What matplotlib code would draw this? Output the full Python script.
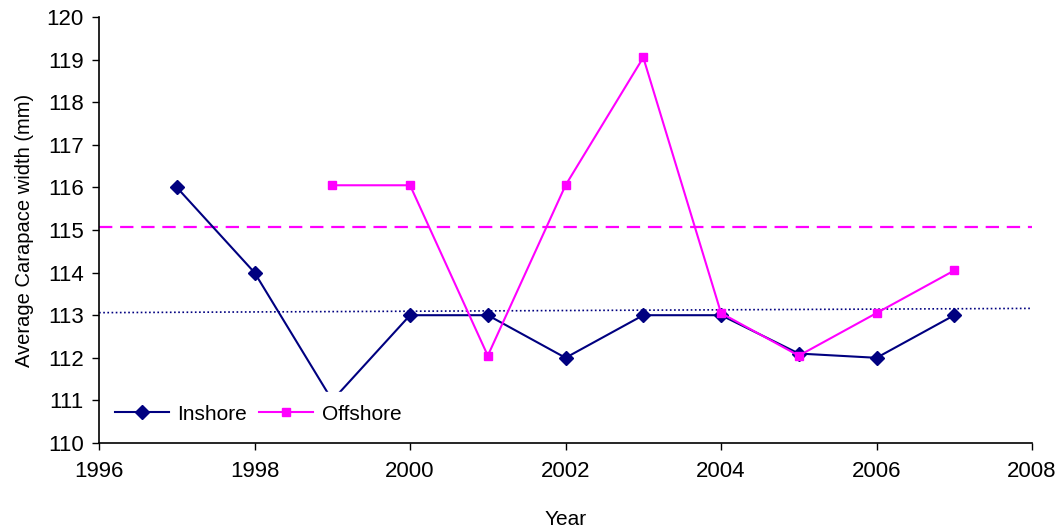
import matplotlib
matplotlib.use("Agg")
import matplotlib.pyplot as plt

# values
inshore_years = [1997, 1998, 1999, 2000, 2001, 2002, 2003, 2004, 2005, 2006, 2007]
inshore_width = [116.0, 114.0, 111.0, 113.0, 113.0, 112.0, 113.0, 113.0, 112.1, 112.0, 113.0]
offshore_years = [1999, 2000, 2001, 2002, 2003, 2004, 2005, 2006, 2007]
offshore_width = [116.05, 116.05, 112.05, 116.05, 119.05, 113.05, 112.05, 113.05, 114.05]
offshore_ref = 115.07               # dashed horizontal line
inshore_trend = [113.06, 113.16]    # dotted line at x = 1996 and 2008

NAVY = "#000080"
MAGENTA = "#FF00FF"

plt.rcParams.update({"font.family": ["Liberation Sans", "DejaVu Sans"], "font.size": 15})

fig = plt.figure(figsize=(10.56, 5.31), dpi=100)
ax = fig.add_axes([0.0938, 0.1657, 0.8835, 0.8023])

ax.axhline(offshore_ref, color=MAGENTA, lw=1.6, ls=(0, (6, 3.5)), zorder=2)
ax.plot([1996, 2008], inshore_trend, color=NAVY, lw=1.2, ls=(0, (1, 1.5)), zorder=2)

ax.plot(inshore_years, inshore_width, color=NAVY, lw=1.5, marker="D", markersize=7,
        label="Inshore", zorder=3)
ax.plot(offshore_years, offshore_width, color=MAGENTA, lw=1.5, marker="s", markersize=5.5,
        label="Offshore", zorder=3)

ax.set_xlim(1996, 2008)
ax.set_ylim(110, 120)
ax.set_xticks(range(1996, 2009, 2))
ax.set_yticks(range(110, 121))
ax.tick_params(axis="x", direction="out", length=5, width=1, pad=8, labelsize=16)
ax.tick_params(axis="y", direction="out", length=5, width=1, pad=6, labelsize=16)
for s in ("top", "right"):
    ax.spines[s].set_visible(False)
for s in ("left", "bottom"):
    ax.spines[s].set_linewidth(1.2)

ax.set_xlabel("Year", labelpad=20)
ax.set_ylabel("Average Carapace width (mm)", labelpad=9, fontsize=14.5)

leg = ax.legend(loc="lower left", ncol=2, frameon=True, fancybox=False, edgecolor="white",
                framealpha=1, bbox_to_anchor=(-0.008, -0.008), handlelength=2.6,
                columnspacing=0.6, handletextpad=0.4, borderpad=0.6, fontsize=15)
leg.set_zorder(5)

fig.savefig("out.png", dpi=100)
